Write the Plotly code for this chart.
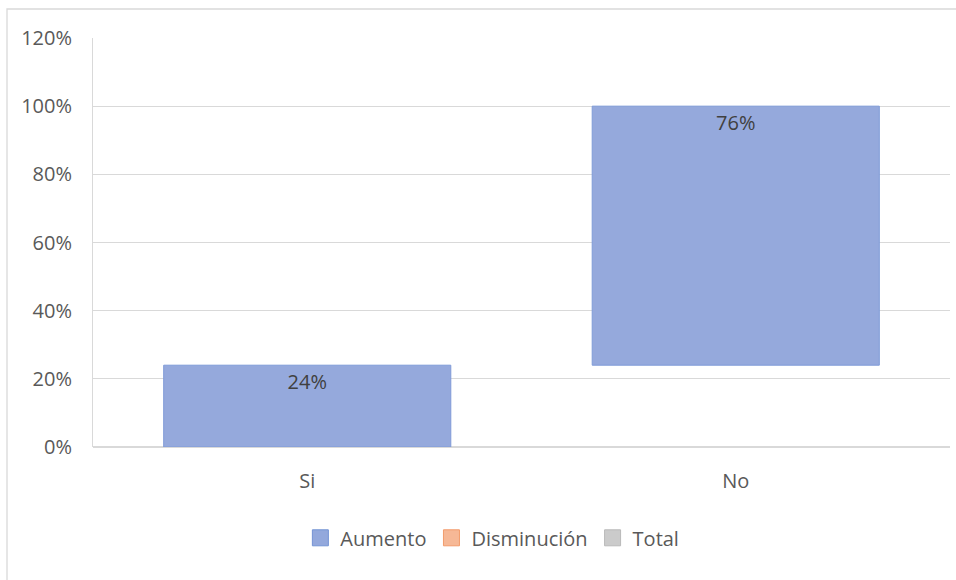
import plotly.graph_objects as go

# Survey answers, shown as a waterfall of shares
categories = ["Si", "No"]
shares = [0.24, 0.76]
legend_names = ["Aumento", "Disminución", "Total"]
legend_fills = ["#93a8dc", "#f6b896", "#cbcbcb"]
legend_lines = ["#7393d4", "#f29b6b", "#b9b9b9"]
y_ticks = [0, 0.2, 0.4, 0.6, 0.8, 1.0, 1.2]

FONT = "Open Sans"
W, H = 956, 580
L, R, T, B = 93, 6, 38, 133

fig = go.Figure()

fig.add_trace(go.Waterfall(
    x=categories,
    y=shares,
    measure=["relative"] * len(shares),
    width=0.67,
    text=[f"{v:.0%}" for v in shares],
    textposition="inside",
    insidetextanchor="end",
    textfont=dict(family=FONT, size=20, color="#404040"),
    increasing=dict(marker=dict(color="#95a9dc", line=dict(color="#7f9bd8", width=1))),
    decreasing=dict(marker=dict(color=legend_fills[1], line=dict(color=legend_lines[1], width=1))),
    totals=dict(marker=dict(color=legend_fills[2], line=dict(color=legend_lines[2], width=1))),
    connector=dict(visible=False),
    showlegend=False,
    hoverinfo="skip",
))

# Legend entries for the three waterfall categories
for name, fill, line in zip(legend_names, legend_fills, legend_lines):
    fig.add_trace(go.Scatter(
        x=[None], y=[None], name=name, mode="markers",
        marker=dict(symbol="square", size=19, color=fill,
                    line=dict(color=line, width=1)),
        showlegend=True,
    ))

# Chart-area frame (top and left edges)
pw, ph = W - L - R, H - T - B
fx0 = (7 - L) / pw
fy0 = (H - B - 580) / ph
fy1 = (H - B - 9) / ph
fx1 = (956 - L) / pw
fig.add_shape(
    type="path", xref="paper", yref="paper",
    path=f"M {fx0} {fy0} L {fx0} {fy1} L {fx1} {fy1}",
    line=dict(color="#d9d9d9", width=1.3),
)

fig.update_layout(
    width=W, height=H,
    margin=dict(l=L, r=R, t=T, b=B),
    paper_bgcolor="white",
    plot_bgcolor="white",
    font=dict(family=FONT, size=20, color="#595959"),
    legend=dict(
        orientation="h",
        x=0.466, xanchor="center",
        y=-0.222, yanchor="middle",
        font=dict(family=FONT, size=20, color="#595959"),
        itemwidth=30,
        traceorder="normal",
    ),
    xaxis=dict(
        showgrid=False,
        showline=False,
        ticks="",
        ticklabelstandoff=20,
        tickfont=dict(size=20, color="#595959"),
    ),
    yaxis=dict(
        range=[0, 1.2],
        tickvals=y_ticks,
        tickformat=".0%",
        showgrid=True,
        gridcolor="#d9d9d9",
        gridwidth=1,
        showline=True,
        linecolor="#d9d9d9",
        linewidth=1,
        zeroline=True,
        zerolinecolor="#d9d9d9",
        ticks="",
        ticklabelstandoff=16,
        tickfont=dict(size=20, color="#595959"),
    ),
)

fig.write_html("out.html")
